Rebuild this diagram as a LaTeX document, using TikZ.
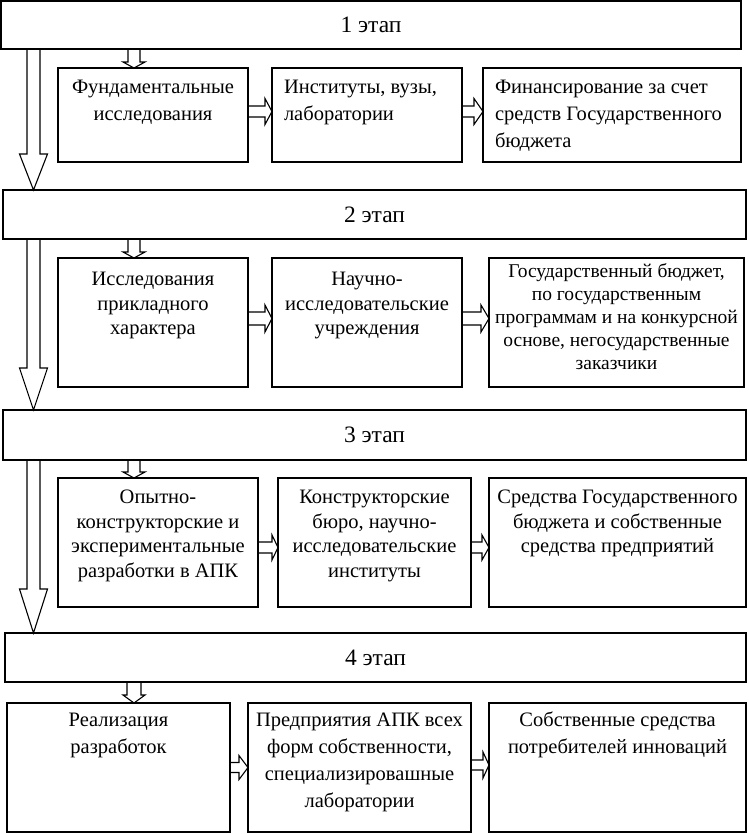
\documentclass[tikz,border=0pt]{standalone}
\usepackage{fontspec}
\setmainfont{Liberation Serif}
\usetikzlibrary{calc}

\tikzset{
  frame/.style={draw, line width=1.7pt, inner sep=0pt, outer sep=0pt, anchor=north west},
  arrline/.style={draw, line width=1.1pt, line join=miter},
}

% centred box: name, x, y, w, h, first-baseline offset, line skip, text
\newcommand\cbox[8]{\node[frame] (#1) at (#2,#3) {\parbox[t][#5pt][t]{#4pt}{\fontsize{20.5}{#7}\selectfont\centering\hyphenpenalty=10000\rule{0pt}{#6pt}#8\par}};}
% left-aligned box
\newcommand\lbox[8]{\node[frame] (#1) at (#2,#3) {\parbox[t][#5pt][t]{#4pt}{\fontsize{20.5}{#7}\selectfont\raggedright\leftskip=12pt\hyphenpenalty=10000\rule{0pt}{#6pt}#8\par}};}
% stage box: name, x, y, w, h, text
\newcommand\stagebox[6]{\node[frame] (#1) at (#2,#3) {\parbox[c][#5pt][c]{#4pt}{\fontsize{23.5}{26}\selectfont\centering #6\par}};}

% hollow horizontal arrow: from, to, y, shaft half, head half, head length
\newcommand\harr[6]{%
  \path (#1.east |- 0,#3) coordinate (hs) (#2.west |- 0,#3) coordinate (ht);
  \draw[arrline] ($(hs)+(0,-#4)$) -- ($(ht)+(-#6,-#4)$) -- ($(ht)+(-#6,-#5)$) -- (ht)
     -- ($(ht)+(-#6,#5)$) -- ($(ht)+(-#6,#4)$) -- ($(hs)+(0,#4)$);}
% hollow vertical arrow: from, to, x, shaft half, head half, head length
\newcommand\varr[6]{%
  \path (#1.south -| #3,0) coordinate (vs) (#2.north -| #3,0) coordinate (vt);
  \draw[arrline] ($(vs)+(-#4,0)$) -- ($(vt)+(-#4,-#6)$) -- ($(vt)+(-#5,-#6)$) -- (vt)
     -- ($(vt)+(#5,-#6)$) -- ($(vt)+(#4,-#6)$) -- ($(vs)+(#4,0)$);}

\begin{document}
\begin{tikzpicture}[x=1pt,y=-1pt]
\useasboundingbox (0,0) rectangle (748,834);

% stages
\stagebox{s1}{1}{1}{740}{48}{1 этап}
\stagebox{s2}{3}{190}{743}{49}{2 этап}
\stagebox{s3}{3}{410}{743}{50}{3 этап}
\stagebox{s4}{5}{633}{741}{49}{4 этап}

% row 1
\cbox{a1}{58}{68}{190}{94}{25.5}{27}{Фундаментальные\\исследования}
\lbox{b1}{272}{68}{190}{94}{25.5}{27}{Институты, вузы,\\лаборатории}
\lbox{c1}{483}{68}{258}{94}{25.5}{27}{Финансирование за счет\\средств Государственного\\бюджета}

% row 2
\cbox{a2}{58}{258}{190}{129}{27.5}{24.5}{Исследования\\прикладного\\характера}
\cbox{b2}{272}{258}{190}{129}{27.5}{24.5}{Научно-\\исследовательские\\учреждения}
\node[frame] (c2) at (489,258) {\parbox[t][129pt][t]{255pt}{\fontsize{19.5}{23}\selectfont\centering\hyphenpenalty=10000\rule{0pt}{19.5pt}Государственный бюджет,\\по государственным\\программам и на конкурсной\\основе, негосударственные\\заказчики\par}};

% row 3
\cbox{a3}{58}{478}{200}{129}{25.5}{24.7}{Опытно-\\конструкторские и\\экспериментальные\\разработки в АПК}
\cbox{b3}{278}{478}{193}{129}{25.5}{24.7}{Конструкторские\\бюро, научно-\\исследовательские\\институты}
\cbox{c3}{489}{478}{257}{129}{25.5}{24.7}{Средства Государственного\\бюджета и собственные\\средства предприятий}

% row 4
\cbox{a4}{7}{703}{223}{129}{23.5}{27}{Реализация\\разработок}
\cbox{b4}{248}{703}{223}{129}{23.5}{27}{Предприятия АПК всех\\форм собственности,\\специализировашные\\лаборатории}
\cbox{c4}{489}{703}{257}{129}{23.5}{27}{Собственные средства\\потребителей инноваций}

% big arrows between stages
\varr{s1}{s2}{33.5}{6.5}{14}{36}
\varr{s2}{s3}{33.5}{6.5}{14}{42}
\varr{s3}{s4}{33.5}{6.5}{14}{44}

% small arrows stage -> first box
\varr{s1}{a1}{134}{6}{11}{6}
\varr{s2}{a2}{134}{6}{11}{6}
\varr{s3}{a3}{134}{6}{11}{6}
\varr{s4}{a4}{134}{7}{11}{8}

% horizontal arrows
\harr{a1}{b1}{111.5}{5.5}{13}{7}
\harr{b1}{c1}{111.5}{5.5}{13}{9}
\harr{a2}{b2}{318.5}{6.5}{13.5}{7}
\harr{b2}{c2}{318.5}{6.5}{13.5}{8}
\harr{a3}{b3}{547.5}{5.5}{12.5}{6}
\harr{b3}{c3}{547.5}{5.5}{12.5}{7}
\harr{a4}{b4}{767.5}{5}{12}{9}
\harr{b4}{c4}{765}{5}{13}{6}
\end{tikzpicture}
\end{document}
